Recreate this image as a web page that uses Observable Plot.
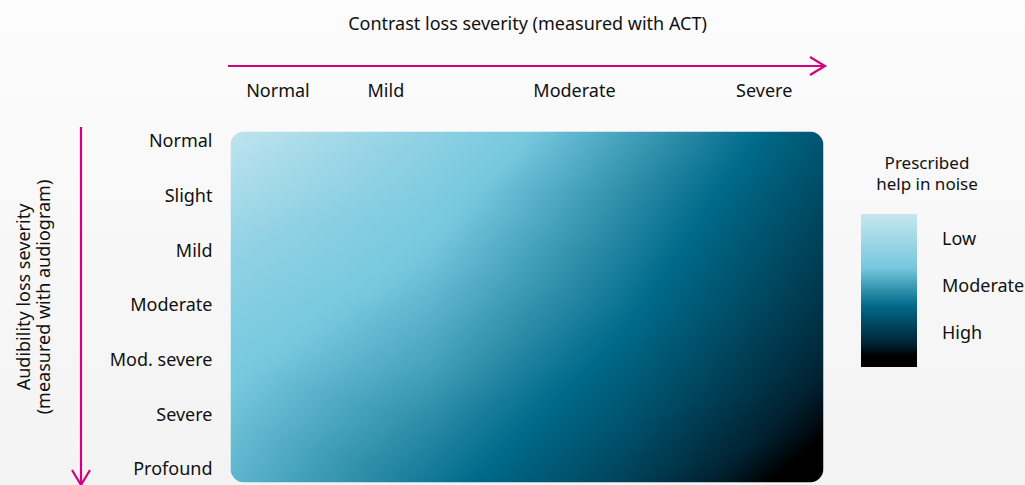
<!DOCTYPE html>
<html><head><meta charset="utf-8">
<script src="https://cdn.jsdelivr.net/npm/d3@7"></script>
<script src="https://cdn.jsdelivr.net/npm/@observablehq/plot@0.6"></script>
<style>
body{margin:0;width:1025px;height:485px;overflow:hidden;background:linear-gradient(#fcfcfc,#f3f3f3);font-family:"Noto Sans",sans-serif;color:#111;position:relative}
.abs{position:absolute}
#legend-bar{left:861px;top:214px;width:56px;height:153px}
.lt{font-size:18px}
</style></head><body>
<div id="chart" class="abs" style="left:0;top:0"></div>
<div class="abs lt" style="left:0;width:1025px;top:11px;text-align:center;padding-left:30px;box-sizing:border-box">Contrast loss severity (measured with ACT)</div>
<div class="abs" style="left:862px;width:130px;top:152px;text-align:center;line-height:21px;font-size:17px">Prescribed<br>help in noise</div>
<div id="legend-bar" class="abs"></div>
<div id="legend-labels"></div>
<script>
// categories
const contrastLevels = ["Normal", "Mild", "Moderate", "Severe"];
const audibilityLevels = ["Normal", "Slight", "Mild", "Moderate", "Mod. severe", "Severe", "Profound"];
const helpLevels = ["Low", "Moderate", "High"];

// read-off intensity (0 light .. 1 black), rows = audibility, cols = contrast
const intensity = [
  [0.03, 0.24, 0.45, 0.67],
  [0.12, 0.30, 0.50, 0.71],
  [0.22, 0.35, 0.54, 0.75],
  [0.28, 0.40, 0.58, 0.79],
  [0.33, 0.45, 0.63, 0.84],
  [0.37, 0.51, 0.68, 0.91],
  [0.40, 0.56, 0.74, 1.00],
];

// colour ramp
const rampStops = [0, 0.35, 0.6, 0.85, 0.93, 1];
const rampColors = ["#c6e6f0", "#76c8de", "#006a8a", "#002232", "#000000", "#000000"];

const W = 1025, H = 485, L = 230, R = 823, T = 131, B = 482;
const magenta = "#d4007f";

const cells = intensity.flatMap((row, i) => row.map((v, j) => ({
  u: j / (row.length - 1), v: i / (intensity.length - 1), t: v
})));

// label anchors within the heat area (fractions)
const colAt = [0.08, 0.262, 0.58, 0.9];
const rowAt = audibilityLevels.map((d, i) => (10 + i * 54.67) / (B - T));

const plot = Plot.plot({
  width: W, height: H,
  marginLeft: L, marginRight: W - R, marginTop: T, marginBottom: H - B,
  x: {domain: [0, 1], axis: null},
  y: {domain: [0, 1], axis: null, reverse: true},
  color: {type: "linear", domain: rampStops, range: rampColors},
  style: {fontFamily: "Noto Sans", fontSize: "18px", background: "transparent", color: "#111"},
  marks: [
    Plot.raster(cells, {x: "u", y: "v", fill: "t", interpolate: "barycentric", x1: 0, x2: 1, y1: 0, y2: 1, pixelSize: 2, imageRendering: "auto"}),
    Plot.text(contrastLevels, {x: (d, i) => colAt[i], y: 0, dy: -40, text: d => d, fontSize: 18, fill: "#111"}),
    Plot.text(audibilityLevels, {x: 0, y: (d, i) => rowAt[i], dx: -18, textAnchor: "end", text: d => d, fontSize: 18, fill: "#111"}),
  ]
});
document.getElementById("chart").appendChild(plot);

const svg = d3.select(plot);
// rounded corners on the heat area, in the image's own coordinates
const img = svg.select("image");
svg.insert("defs", ":first-child").append("clipPath").attr("id", "rc")
  .append("rect").attr("x", +img.attr("x") || 0).attr("y", +img.attr("y") || 0)
  .attr("width", img.attr("width")).attr("height", img.attr("height")).attr("rx", 14);
img.attr("clip-path", "url(#rc)");

// arrows
const ar = svg.append("g").attr("stroke", magenta).attr("stroke-width", 2.2).attr("fill", "none");
ar.append("path").attr("d", "M228,66H824M810,57L825,66L810,75");
ar.append("path").attr("d", "M81,127V484M72,470L81,485L90,470");
svg.append("text").attr("transform", "translate(30,297) rotate(-90)").attr("text-anchor", "middle")
  .attr("font-size", 18).attr("fill", "#111")
  .selectAll("tspan").data(["Audibility loss severity", "(measured with audiogram)"]).join("tspan")
  .attr("x", 0).attr("dy", (d, i) => i ? 20 : 0).text(d => d);

// legend
const stops = rampStops.map((s, i) => `${rampColors[i]} ${s * 100}%`).join(",");
document.getElementById("legend-bar").style.background = `linear-gradient(${stops})`;
const ll = document.getElementById("legend-labels");
helpLevels.forEach((d, i) => {
  const e = document.createElement("div");
  e.className = "abs lt"; e.style.left = "942px"; e.style.top = (226 + i * 47) + "px";
  e.textContent = d; ll.appendChild(e);
});
</script>
</body></html>
